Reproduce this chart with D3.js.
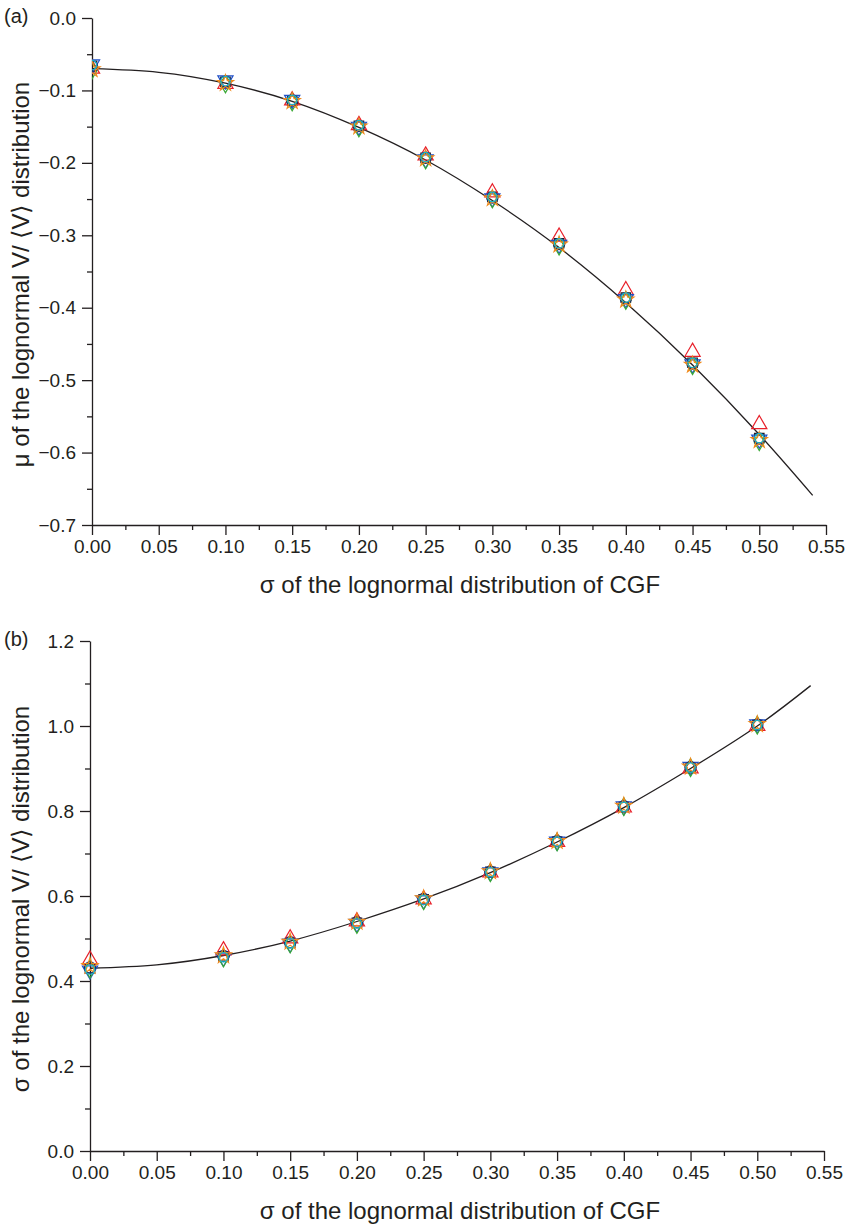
<!DOCTYPE html>
<html>
<head>
<meta charset="utf-8">
<script src="https://cdn.jsdelivr.net/npm/d3@7"></script>
<style>
  body { margin: 0; background: #fff; }
  svg { font-family: "Liberation Sans", Arial, sans-serif; }
  .axis path, .axis line { stroke: #231f20; stroke-width: 1.3; }
  .axis text { font-size: 19px; fill: #231f20; }
  .lbl { font-size: 24px; fill: #231f20; }
  .tag { font-size: 20px; fill: #231f20; }
</style>
</head>
<body>
<div id="graph"></div>
<script>
// sigma of the lognormal distribution of CGF (x positions of the markers)
var sigmaCGF = [0, 0.10, 0.15, 0.20, 0.25, 0.30, 0.35, 0.40, 0.45, 0.50];

// panel (a): mu of V/<V>, one array per marker series
var muSquare   = [-0.066, -0.088, -0.114, -0.149, -0.193, -0.247, -0.311, -0.386, -0.476, -0.580];
var muTriUp    = [-0.070, -0.091, -0.114, -0.148, -0.190, -0.241, -0.302, -0.376, -0.461, -0.561];
var muTriDown  = [-0.064, -0.086, -0.113, -0.150, -0.195, -0.249, -0.313, -0.388, -0.478, -0.582];
var muDiamond  = [-0.072, -0.091, -0.116, -0.152, -0.196, -0.250, -0.315, -0.390, -0.480, -0.585];
var muCircle   = [-0.067, -0.088, -0.114, -0.149, -0.193, -0.248, -0.312, -0.387, -0.477, -0.581];
var muStar     = [-0.071, -0.090, -0.115, -0.150, -0.194, -0.249, -0.313, -0.389, -0.479, -0.583];
var muHex      = [-0.065, -0.087, -0.113, -0.148, -0.192, -0.247, -0.311, -0.386, -0.476, -0.580];

// panel (b): sigma of V/<V>
var sdSquare   = [0.430, 0.458, 0.490, 0.537, 0.592, 0.657, 0.728, 0.810, 0.903, 1.003];
var sdTriUp    = [0.450, 0.472, 0.500, 0.540, 0.592, 0.655, 0.727, 0.808, 0.900, 1.000];
var sdTriDown  = [0.425, 0.455, 0.488, 0.535, 0.590, 0.656, 0.728, 0.811, 0.904, 1.004];
var sdDiamond  = [0.428, 0.454, 0.487, 0.533, 0.589, 0.655, 0.727, 0.810, 0.902, 1.002];
var sdCircle   = [0.432, 0.459, 0.491, 0.538, 0.593, 0.657, 0.729, 0.811, 0.903, 1.003];
var sdStar     = [0.435, 0.460, 0.492, 0.539, 0.594, 0.658, 0.729, 0.812, 0.904, 1.004];
var sdHex      = [0.427, 0.456, 0.489, 0.536, 0.591, 0.656, 0.728, 0.810, 0.902, 1.002];

// fitted curves
var fitX   = [0, 0.05, 0.10, 0.15, 0.20, 0.25, 0.30, 0.35, 0.40, 0.45, 0.50, 0.54];
var fitMu  = [-0.070, -0.075, -0.090, -0.115, -0.151, -0.196, -0.252, -0.317, -0.393, -0.479, -0.575, -0.659];
var fitSd  = [0.430, 0.438, 0.460, 0.494, 0.540, 0.593, 0.655, 0.727, 0.808, 0.900, 1.000, 1.095];

var xTicks = [0, 0.05, 0.10, 0.15, 0.20, 0.25, 0.30, 0.35, 0.40, 0.45, 0.50, 0.55];
var muTicks = [0, -0.1, -0.2, -0.3, -0.4, -0.5, -0.6, -0.7];
var sdTicks = [0, 0.2, 0.4, 0.6, 0.8, 1.0, 1.2];

var seriesStyle = [
  {shape: d3.symbolSquare,   color: "#231f20", rot: 0,   size: 90},
  {shape: d3.symbolTriangle, color: "#e8202a", rot: 0,   size: 100},
  {shape: d3.symbolTriangle, color: "#2050c8", rot: 180, size: 100},
  {shape: d3.symbolDiamond,  color: "#3aa935", rot: 0,   size: 90},
  {shape: d3.symbolCircle,   color: "#1c2c6e", rot: 0,   size: 100},
  {shape: d3.symbolStar,     color: "#f08a1c", rot: 0,   size: 80},
  {shape: d3.symbolCircle,   color: "#18b4c8", rot: 0,   size: 70}
];

var W = 846, H = 1228;
var svg = d3.select("#graph").append("svg")
  .attr("width", W)
  .attr("height", H);

var minus = function (s) { return s.replace("-", "\u2212"); };

function drawPanel(opt) {
  var x = d3.scaleLinear().domain([0, 0.55]).range([opt.left, opt.left + 734]);
  var y = d3.scaleLinear().domain(opt.yDomain).range([opt.bottom, opt.top]);

  var g = svg.append("g");

  // minor ticks
  var xMinor = d3.range(0, 0.551, 0.025).filter(function (v) { return Math.abs(v / 0.05 - Math.round(v / 0.05)) > 0.1; });
  g.append("g")
    .attr("class", "axis")
    .attr("transform", "translate(0," + opt.bottom + ")")
    .call(d3.axisBottom(x).tickValues(xMinor).tickSize(5).tickFormat(""))
    .select(".domain").remove();
  g.append("g")
    .attr("class", "axis")
    .attr("transform", "translate(" + opt.left + ",0)")
    .call(d3.axisLeft(y).tickValues(opt.yMinor).tickSize(5).tickFormat(""))
    .select(".domain").remove();

  // major axes
  g.append("g")
    .attr("class", "axis")
    .attr("transform", "translate(0," + opt.bottom + ")")
    .call(d3.axisBottom(x).tickValues(xTicks).tickSize(10).tickSizeOuter(0).tickPadding(5)
      .tickFormat(d3.format(".2f")));
  g.append("g")
    .attr("class", "axis")
    .attr("transform", "translate(" + opt.left + ",0)")
    .call(d3.axisLeft(y).tickValues(opt.yTicks).tickSize(10).tickSizeOuter(0).tickPadding(6)
      .tickFormat(function (d) { return minus(d3.format(".1f")(d)); }));

  // fitted curve
  var line = d3.line()
    .x(function (d, i) { return x(fitX[i]); })
    .y(function (d) { return y(d); })
    .curve(d3.curveNatural);
  g.append("path")
    .datum(opt.fit)
    .attr("fill", "none")
    .attr("stroke", "#231f20")
    .attr("stroke-width", 1.3)
    .attr("d", line);

  // markers
  var clipId = "clip" + opt.name.replace(/\W/g, "");
  svg.append("clipPath").attr("id", clipId)
    .append("rect")
    .attr("x", opt.clipLeft).attr("y", 0)
    .attr("width", 800).attr("height", H);
  var markers = g.append("g").attr("clip-path", "url(#" + clipId + ")");
  opt.series.forEach(function (vals, k) {
    var st = seriesStyle[k];
    markers.selectAll(null)
      .data(vals)
      .enter()
      .append("path")
      .attr("d", d3.symbol().type(st.shape).size(st.size))
      .attr("transform", function (d, i) {
        return "translate(" + x(sigmaCGF[i]) + "," + y(d) + ") rotate(" + st.rot + ")";
      })
      .attr("fill", "none")
      .attr("stroke", st.color)
      .attr("stroke-width", 1.2);
  });

  // labels
  svg.append("text")
    .attr("class", "tag")
    .attr("x", 4).attr("y", opt.top + 5)
    .text(opt.name);
  svg.append("text")
    .attr("class", "lbl")
    .attr("x", 460).attr("y", opt.bottom + 68)
    .attr("text-anchor", "middle")
    .text("\u03c3 of the lognormal distribution of CGF");
  svg.append("text")
    .attr("class", "lbl")
    .attr("transform", "translate(29," + ((opt.top + opt.bottom) / 2 + 3) + ") rotate(-90)")
    .attr("text-anchor", "middle")
    .text(opt.yLabel);
}

drawPanel({
  name: "(a)",
  left: 92, top: 18, bottom: 525,
  yDomain: [-0.7, 0],
  yTicks: muTicks,
  yMinor: [-0.05, -0.15, -0.25, -0.35, -0.45, -0.55, -0.65],
  fit: fitMu,
  series: [muSquare, muTriUp, muTriDown, muDiamond, muCircle, muStar, muHex],
  clipLeft: 92,
  yLabel: "\u03bc of the lognormal V/ \u27e8V\u27e9  distribution"
});

drawPanel({
  name: "(b)",
  left: 90, top: 641, bottom: 1151,
  yDomain: [0, 1.2],
  yTicks: sdTicks,
  yMinor: [0.1, 0.3, 0.5, 0.7, 0.9, 1.1],
  fit: fitSd,
  series: [sdSquare, sdTriUp, sdTriDown, sdDiamond, sdCircle, sdStar, sdHex],
  clipLeft: 70,
  yLabel: "\u03c3 of the lognormal V/ \u27e8V\u27e9 distribution"
});
</script>
</body>
</html>
